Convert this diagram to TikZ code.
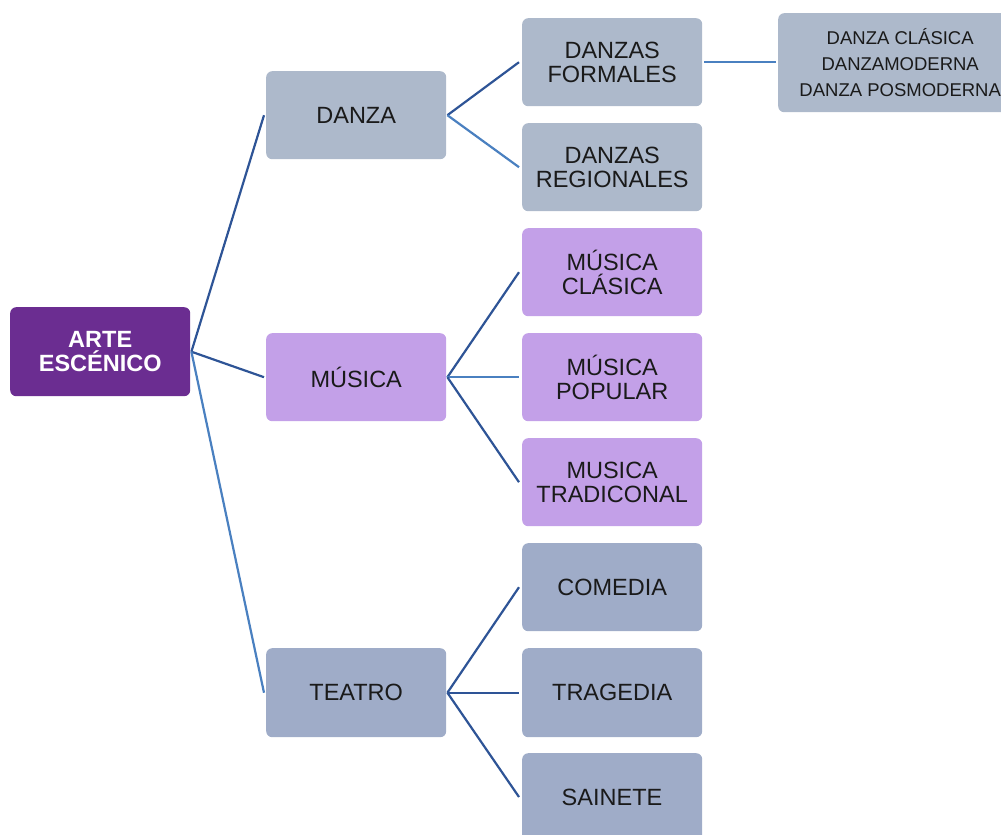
\documentclass[tikz,border=0pt]{standalone}
\usepackage{fontspec}
\setmainfont{Liberation Sans}
\definecolor{rootc}{RGB}{107,45,145}
\definecolor{danc}{RGB}{173,185,203}
\definecolor{musc}{RGB}{195,160,232}
\definecolor{teac}{RGB}{159,172,200}
\definecolor{darkl}{RGB}{46,84,150}
\definecolor{lightl}{RGB}{74,128,192}
\definecolor{txt}{RGB}{26,26,26}
\begin{document}
\begin{tikzpicture}[x=1pt,y=-1pt,
  box/.style={rounded corners=6pt, minimum width=180pt, minimum height=88pt, inner sep=0pt, align=center, text=txt, font=\fontsize{23.5}{24.5}\selectfont, anchor=north west},
  dl/.style={draw=darkl, line width=2.2pt},
  ll/.style={draw=lightl, line width=2.2pt}]
\useasboundingbox (0,0) rectangle (1001,835);
\node[box, fill=rootc, text=white, font=\fontsize{23.5}{24}\selectfont\bfseries, minimum height=89pt] (root) at (10,307) {ARTE\\ESCÉNICO};
\node[box, fill=danc] (danza) at (266,71) {DANZA};
\node[box, fill=musc] (musica) at (266,333) {MÚSICA};
\node[box, fill=teac, minimum height=89pt] (teatro) at (266,648) {TEATRO};
\node[box, fill=danc] (formales) at (522,18) {DANZAS\\FORMALES};
\node[box, fill=danc] (regionales) at (522,123) {DANZAS\\REGIONALES};
\node[box, fill=musc] (mclasica) at (522,228) {MÚSICA\\CLÁSICA};
\node[box, fill=musc] (mpopular) at (522,333) {MÚSICA\\POPULAR};
\node[box, fill=musc] (mtrad) at (522,438) {MUSICA\\TRADICONAL};
\node[box, fill=teac] (comedia) at (522,543) {COMEDIA};
\node[box, fill=teac, minimum height=89pt] (tragedia) at (522,648) {TRAGEDIA};
\node[box, fill=teac, minimum height=100pt] (sainete) at (522,753) {};
\node[text=txt, font=\fontsize{23.5}{24.5}\selectfont] (saintxt) at (612,797) {SAINETE};
\node[box, fill=danc, minimum width=244pt, minimum height=99pt, font=\fontsize{18.5}{26}\selectfont] (sub) at (778,13) {DANZA CLÁSICA\\DANZAMODERNA\\DANZA POSMODERNA};
% connectors
\coordinate (r0) at ([xshift=1pt]root.east);
\draw[dl] (r0) -- ([xshift=-2pt]danza.west);
\draw[dl] (r0) -- ([xshift=-2pt]musica.west);
\draw[ll] (r0) -- ([xshift=-2pt]teatro.west);
\coordinate (d0) at ([xshift=1pt]danza.east);
\draw[dl] (d0) -- ([xshift=-3pt]formales.west);
\draw[ll] (d0) -- ([xshift=-3pt]regionales.west);
\coordinate (m0) at ([xshift=1pt]musica.east);
\draw[dl] (m0) -- ([xshift=-3pt]mclasica.west);
\draw[ll] (m0) -- ([xshift=-3pt]mpopular.west);
\draw[dl] (m0) -- ([xshift=-3pt]mtrad.west);
\coordinate (t0) at ([xshift=1pt]teatro.east);
\draw[dl] (t0) -- ([xshift=-3pt]comedia.west);
\draw[dl] (t0) -- ([xshift=-3pt]tragedia.west);
\draw[dl] (t0) -- ([xshift=-3pt]sainete.north west |- saintxt);
\draw[ll] ([xshift=2pt]formales.east) -- ([xshift=-2pt]formales.east -| sub.west);
\end{tikzpicture}
\end{document}
